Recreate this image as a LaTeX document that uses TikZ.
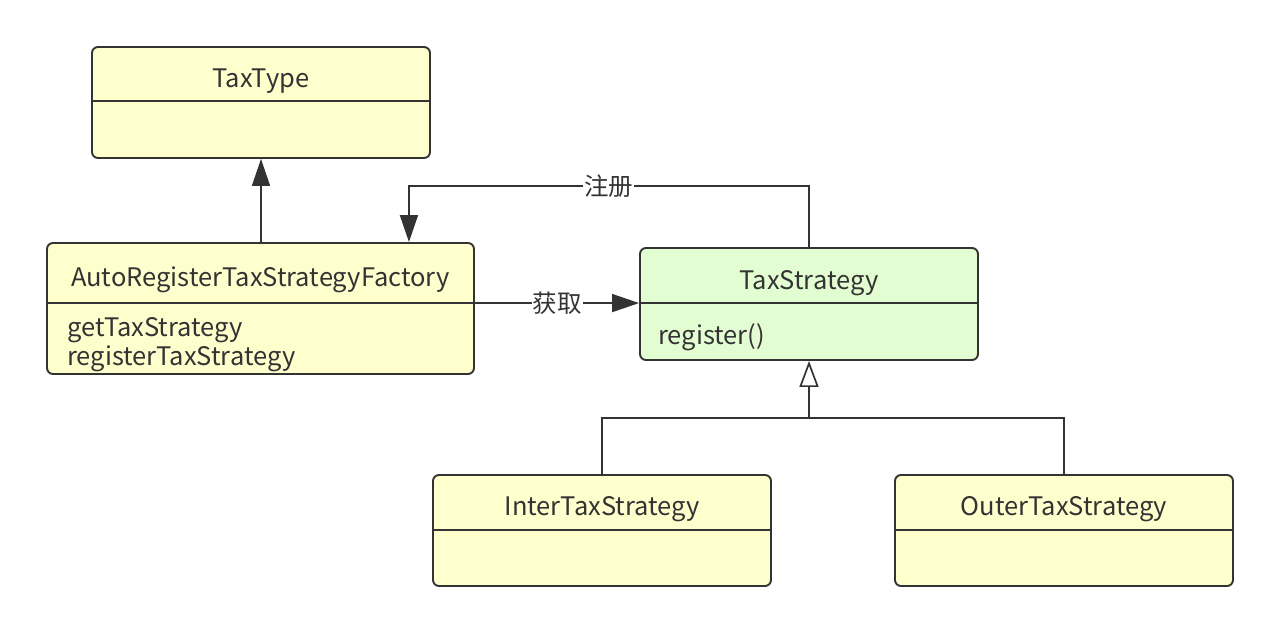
\documentclass[tikz,border=0pt]{standalone}
\usepackage{fontspec}
\setmainfont{Noto Sans CJK SC}
\usetikzlibrary{arrows.meta,calc}
\definecolor{ylw}{RGB}{255,255,206}
\definecolor{grn}{RGB}{227,253,210}
\definecolor{ink}{RGB}{51,51,51}
\begin{document}
\begin{tikzpicture}[x=1pt,y=-1pt,
  cls/.style={draw=ink, line width=1.9pt, rounded corners=6pt, inner sep=0pt, minimum width=338pt, minimum height=111pt},
  div/.style={draw=ink, line width=1.9pt},
  title/.style={text=ink, font=\fontsize{25.5}{30}\selectfont, inner sep=0pt, anchor=center},
  meth/.style={text=ink, font=\fontsize{25.5}{29}\selectfont, inner sep=0pt, anchor=west, align=left},
  lbl/.style={text=ink, font=\fontsize{24.5}{28}\selectfont, fill=white, inner sep=1pt},
  conn/.style={draw=ink, line width=1.7pt},
  fillarrow/.style={conn, -{Triangle[length=27pt,width=18pt]}},
  hollowarrow/.style={conn, -{Triangle[open,length=26pt,width=19pt,fill=white]}}
]
\useasboundingbox (0,0) rectangle (1280,633);
% boxes
\node[cls, fill=ylw] (taxtype) at (261,102.5) {};
\node[cls, fill=ylw, minimum width=427pt, minimum height=131pt] (factory) at (260.5,308.5) {};
\node[cls, fill=grn, minimum height=112pt] (strategy) at (809,304) {};
\node[cls, fill=ylw] (inter) at (602,530.5) {};
\node[cls, fill=ylw] (outer) at (1064,530.5) {};
% dividers
\draw[div] ($(taxtype.north west)+(0,55)$) -- ($(taxtype.north east)+(0,55)$);
\coordinate (fdivw) at ($(factory.north west)+(0,61)$);
\coordinate (fdive) at ($(factory.north east)+(0,61)$);
\draw[div] (fdivw) -- (fdive);
\draw[div] ($(strategy.north west)+(0,56)$) -- ($(strategy.north east)+(0,56)$);
\draw[div] ($(inter.north west)+(0,56)$) -- ($(inter.north east)+(0,56)$);
\draw[div] ($(outer.north west)+(0,56)$) -- ($(outer.north east)+(0,56)$);
% titles
\node[title] (taxtypeT) at (261,81) {TaxType};
\node[title] (factoryT) at (260.5,280) {AutoRegisterTaxStrategyFactory};
\node[title] (strategyT) at (809,283) {TaxStrategy};
\node[title] (interT) at (602,509) {InterTaxStrategy};
\node[title] (outerT) at (1064,509) {OuterTaxStrategy};
% members
\node[meth] (factoryM) at (67,345) {getTaxStrategy\\registerTaxStrategy};
\node[meth] (strategyM) at (658,337) {register()};
% connectors
\draw[fillarrow] (factory.north -| taxtype.south) -- (taxtype.south);
\coordinate (regin) at ($(factory.north east)+(-66,0)$);
\draw[fillarrow] (strategy.north) |- ($(regin)+(0,-56)$) node[lbl, pos=0.75] {注册} -- (regin);
\draw[fillarrow] (fdive) -- (fdive -| strategy.west) node[lbl, midway] {获取};
\coordinate (junc) at ($(strategy.south)+(0,57)$);
\draw[conn] (inter.north) |- (junc) -| (outer.north);
\draw[hollowarrow] (junc) -- (strategy.south);
\end{tikzpicture}
\end{document}
